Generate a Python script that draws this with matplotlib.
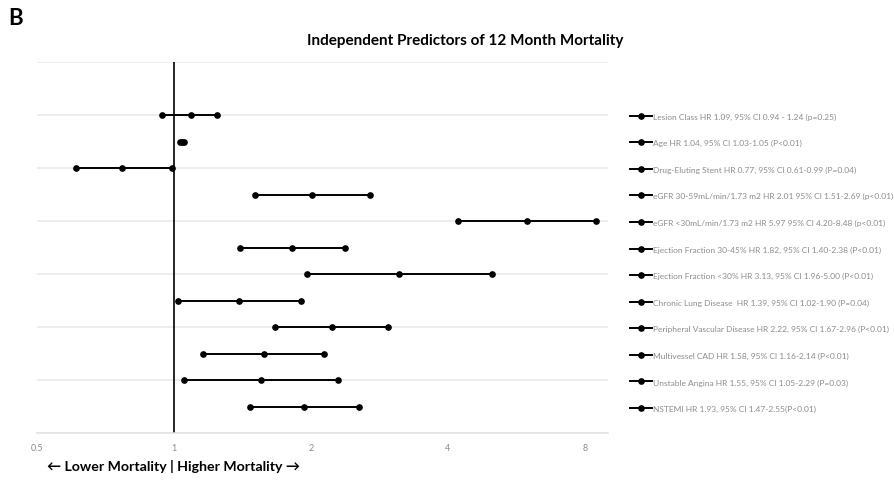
import matplotlib
matplotlib.use('Agg')
import matplotlib.pyplot as plt
from matplotlib.ticker import FixedLocator, FixedFormatter, NullFormatter

plt.rcParams['font.family'] = ['Lato', 'DejaVu Sans']

# Hazard ratios with 95% confidence intervals, top row first
predictors = [
    'Lesion Class HR 1.09, 95% CI 0.94 - 1.24 (p=0.25)',
    'Age HR 1.04, 95% CI 1.03-1.05 (P<0.01)',
    'Drug-Eluting Stent HR 0.77, 95% CI 0.61-0.99 (P=0.04)',
    'eGFR 30-59mL/min/1.73 m2 HR 2.01 95% CI 1.51-2.69 (p<0.01)',
    'eGFR <30mL/min/1.73 m2 HR 5.97 95% CI 4.20-8.48 (p<0.01)',
    'Ejection Fraction 30-45% HR 1.82, 95% CI 1.40-2.38 (P<0.01)',
    'Ejection Fraction <30% HR 3.13, 95% CI 1.96-5.00 (P<0.01)',
    'Chronic Lung Disease  HR 1.39, 95% CI 1.02-1.90 (P=0.04)',
    'Peripheral Vascular Disease HR 2.22, 95% CI 1.67-2.96 (P<0.01)',
    'Multivessel CAD HR 1.58, 95% CI 1.16-2.14 (P<0.01)',
    'Unstable Angina HR 1.55, 95% CI 1.05-2.29 (P=0.03)',
    'NSTEMI HR 1.93, 95% CI 1.47-2.55(P<0.01)',
]
hr = [1.09, 1.04, 0.77, 2.01, 5.97, 1.82, 3.13, 1.39, 2.22, 1.58, 1.55, 1.93]
ci_low = [0.94, 1.03, 0.61, 1.51, 4.20, 1.40, 1.96, 1.02, 1.67, 1.16, 1.05, 1.47]
ci_high = [1.24, 1.05, 0.99, 2.69, 8.48, 2.38, 5.00, 1.90, 2.96, 2.14, 2.29, 2.55]
row_pos = [12, 11, 10, 9, 8, 7, 6, 5, 4, 3, 2, 1]

x_ticks = [0.5, 1, 2, 4, 8]
x_tick_labels = ['0.5', '1', '2', '4', '8']

fig = plt.figure(figsize=(8.94, 4.81), dpi=100)
ax = fig.add_axes([0.0414, 0.0977, 0.6387, 0.7713])

for lo, mid, hi, y, name in zip(ci_low, hr, ci_high, row_pos, predictors):
    ax.plot([lo, mid, hi], [y, y, y], color='black', lw=1.4,
            marker='o', ms=3.8, label=name, zorder=3)

# reference line at HR = 1
ax.axvline(1, color='black', lw=1.2, zorder=2)

ax.set_xscale('log', base=2)
ax.set_xlim(0.5, 8.99)
ax.set_ylim(0, 14)
ax.xaxis.set_major_locator(FixedLocator(x_ticks))
ax.xaxis.set_major_formatter(FixedFormatter(x_tick_labels))
ax.xaxis.set_minor_locator(FixedLocator([]))
ax.xaxis.set_minor_formatter(NullFormatter())
ax.set_yticks(range(0, 15, 2))
ax.set_yticklabels([])
ax.tick_params(axis='both', length=0)
ax.tick_params(axis='x', labelsize=6.5, labelcolor='#8c8c8c', pad=7)
ax.grid(axis='y', color='#e8e8e8', lw=1.1)
ax.set_axisbelow(True)
for side in ['top', 'right', 'left']:
    ax.spines[side].set_visible(False)
ax.spines['bottom'].set_color('#e0e0e0')
ax.spines['bottom'].set_linewidth(1.1)

leg = ax.legend(loc='upper left', bbox_to_anchor=(1.0385, 0.864), frameon=False,
                fontsize=6.0, labelcolor='#8c8c8c', handlelength=2.7,
                handletextpad=0.1, labelspacing=2.33, borderaxespad=0,
                borderpad=0)

fig.text(0.009, 0.962, 'B', fontsize=16, fontweight='bold', va='center')
fig.text(0.52, 0.914, 'Independent Predictors of 12 Month Mortality',
         fontsize=11, fontweight='bold', ha='center', va='center')
fig.text(0.053, 0.031, '\u2190 Lower Mortality | Higher Mortality \u2192',
         fontsize=10.2, fontweight='bold', ha='left', va='center',
         family=['Lato', 'DejaVu Sans'])

fig.savefig('out.png', dpi=100)
